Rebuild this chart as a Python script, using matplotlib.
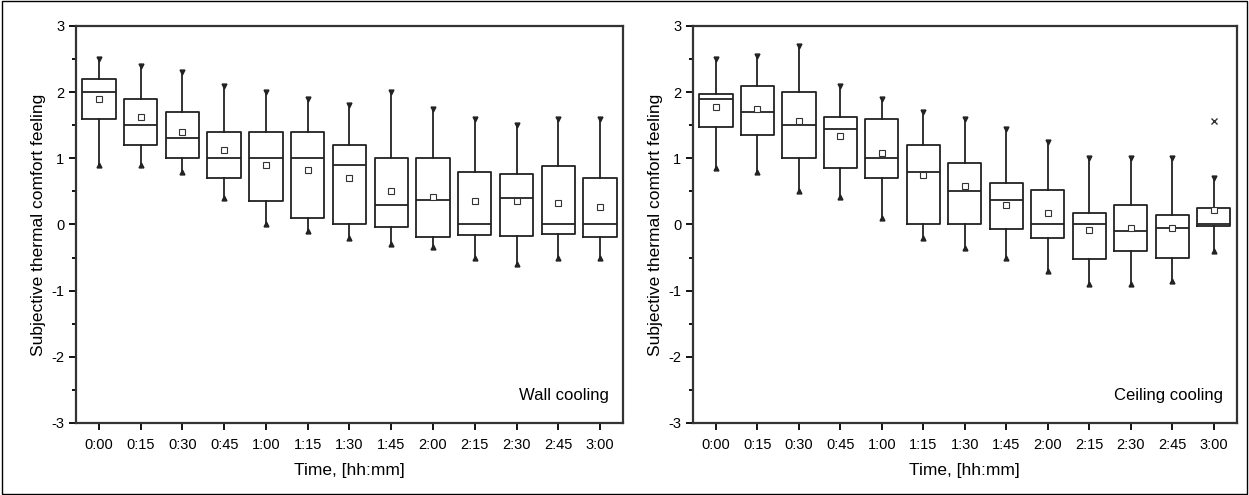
import numpy as np
import matplotlib
matplotlib.use("Agg")
import matplotlib.pyplot as plt
from matplotlib.patches import Rectangle
from matplotlib.ticker import MultipleLocator

plt.rcParams['font.family'] = ['Liberation Sans', 'DejaVu Sans']
plt.rcParams['axes.unicode_minus'] = False

times = ['0:00', '0:15', '0:30', '0:45', '1:00', '1:15', '1:30',
         '1:45', '2:00', '2:15', '2:30', '2:45', '3:00']

# wall cooling
wall_whishi = [2.5, 2.4, 2.3, 2.1, 2.0, 1.9, 1.8, 2.0, 1.75, 1.6, 1.5, 1.6, 1.6]
wall_q3 = [2.2, 1.9, 1.7, 1.4, 1.4, 1.4, 1.2, 1.0, 1.0, 0.8, 0.77, 0.88, 0.7]
wall_med = [2.0, 1.5, 1.3, 1.0, 1.0, 1.0, 0.9, 0.3, 0.37, 0.0, 0.4, 0.0, 0.0]
wall_q1 = [1.6, 1.2, 1.0, 0.7, 0.36, 0.1, 0.0, -0.04, -0.19, -0.16, -0.18, -0.14, -0.19]
wall_whislo = [0.9, 0.9, 0.8, 0.4, 0.0, -0.1, -0.2, -0.3, -0.34, -0.5, -0.6, -0.5, -0.5]
wall_mean = [1.89, 1.62, 1.40, 1.13, 0.90, 0.83, 0.71, 0.50, 0.42, 0.36, 0.36, 0.33, 0.26]
wall_out = [[] for _ in times]

# ceiling cooling
ceil_whishi = [2.5, 2.55, 2.7, 2.1, 1.9, 1.7, 1.6, 1.45, 1.25, 1.0, 1.0, 1.0, 0.7]
ceil_q3 = [1.97, 2.1, 2.0, 1.63, 1.6, 1.2, 0.93, 0.62, 0.52, 0.18, 0.3, 0.15, 0.25]
ceil_med = [1.9, 1.7, 1.5, 1.45, 1.0, 0.8, 0.5, 0.37, 0.0, 0.0, -0.1, -0.05, 0.0]
ceil_q1 = [1.47, 1.35, 1.0, 0.85, 0.7, 0.0, 0.0, -0.07, -0.2, -0.52, -0.4, -0.5, -0.03]
ceil_whislo = [0.85, 0.8, 0.5, 0.42, 0.1, -0.2, -0.35, -0.5, -0.7, -0.9, -0.9, -0.85, -0.4]
ceil_mean = [1.77, 1.74, 1.57, 1.33, 1.08, 0.75, 0.58, 0.30, 0.18, -0.08, -0.05, -0.05, 0.22]
ceil_out = [[], [], [], [], [], [], [], [], [], [], [], [], [1.57]]


def make_stats(whishi, q3, med, q1, whislo, mean, out):
    stats = []
    for i in range(len(med)):
        stats.append(dict(whishi=whishi[i], q3=q3[i], med=med[i], q1=q1[i],
                          whislo=whislo[i], mean=mean[i], fliers=out[i]))
    return stats


def draw_panel(ax, stats, label):
    pos = np.arange(len(times))
    ax.bxp(stats, positions=pos, widths=0.8, showmeans=True, showcaps=False,
           showfliers=True,
           boxprops=dict(color='#222222', linewidth=1.3),
           medianprops=dict(color='#222222', linewidth=1.3),
           whiskerprops=dict(color='#222222', linewidth=1.3),
           meanprops=dict(marker='s', markersize=4, markerfacecolor='white',
                          markeredgecolor='#333333', markeredgewidth=0.8),
           flierprops=dict(marker='x', markersize=5, markeredgecolor='#333333'))
    ax.plot(pos, [s['whishi'] for s in stats], 'v', color='#222222', markersize=3.5)
    ax.plot(pos, [s['whislo'] for s in stats], '^', color='#222222', markersize=3.5)
    ax.set_xlim(-0.55, 12.55)
    ax.set_ylim(-3, 3)
    ax.set_xticks(pos)
    ax.set_xticklabels(times, fontsize=10.5)
    ax.yaxis.set_major_locator(MultipleLocator(1))
    ax.yaxis.set_minor_locator(MultipleLocator(0.5))
    ax.tick_params(axis='y', labelsize=10.5, direction='out', length=5, width=1.3)
    ax.tick_params(axis='y', which='minor', direction='out', length=3, width=1.3)
    ax.tick_params(axis='x', direction='out', length=5, width=1.3, pad=6)
    for sp in ax.spines.values():
        sp.set_linewidth(1.6)
        sp.set_color('#333333')
    ax.set_xlabel('Time, [hh:mm]', fontsize=12.5, labelpad=8)
    ax.set_ylabel('Subjective thermal comfort feeling', fontsize=12.5)
    ax.text(0.975, 0.05, label, transform=ax.transAxes, ha='right', va='bottom',
            fontsize=12)


fig = plt.figure(figsize=(12.49, 4.95), dpi=100)
ax1 = fig.add_axes([0.0608, 0.1455, 0.438, 0.802])
ax2 = fig.add_axes([0.555, 0.1455, 0.435, 0.802])

draw_panel(ax1, make_stats(wall_whishi, wall_q3, wall_med, wall_q1, wall_whislo,
                           wall_mean, wall_out), 'Wall cooling')
draw_panel(ax2, make_stats(ceil_whishi, ceil_q3, ceil_med, ceil_q1, ceil_whislo,
                           ceil_mean, ceil_out), 'Ceiling cooling')

fig.patches.append(Rectangle((0.002, 0.003), 0.996, 0.994, transform=fig.transFigure,
                             fill=False, edgecolor='black', linewidth=1))

fig.savefig('out.png', dpi=100)
